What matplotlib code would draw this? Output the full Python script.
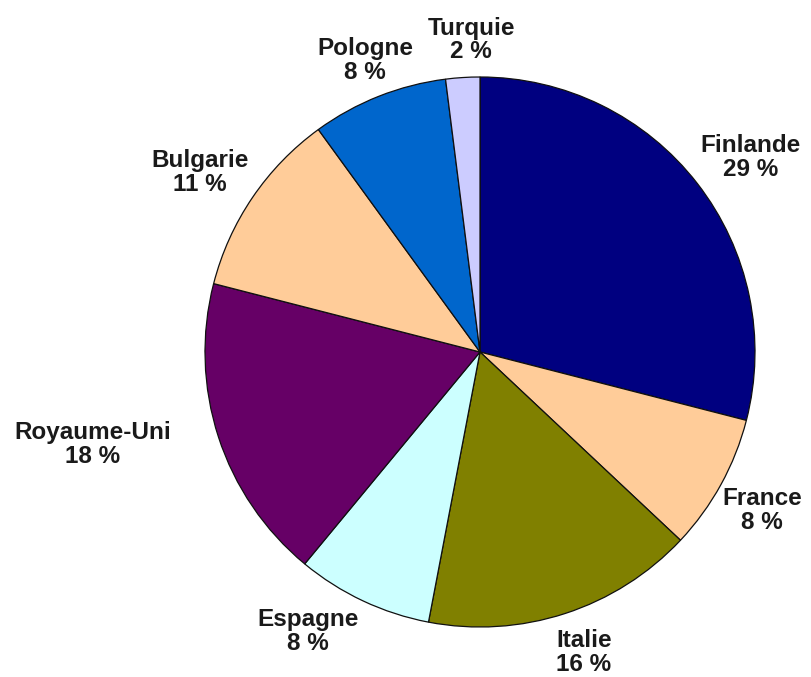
import numpy as np
import matplotlib
matplotlib.use("Agg")
import matplotlib.pyplot as plt

# data
pays = ["Finlande", "France", "Italie", "Espagne", "Royaume-Uni",
        "Bulgarie", "Pologne", "Turquie"]
parts = [29, 8, 16, 8, 18, 11, 8, 2]
couleurs = ["#000080", "#FFCC99", "#808000", "#CCFFFF", "#660066",
            "#FFCC99", "#0066CC", "#CCCCFF"]

# label distance from centre (in radii), per slice
dist_label = [1.21, 1.175, 1.155, 1.195, 1.447, 1.21, 1.14, 1.135]
# small angular nudges (degrees) to sit the labels like the original
decal_angle = [-2.1, -0.5, 1.1, -6.4, -4.6, 1.5, -0.1, -1.95]

W, H = 811, 677
fig = plt.figure(figsize=(W / 100, H / 100), dpi=100)
ax = fig.add_axes([0, 0, 1, 1])

wedges, _ = ax.pie(parts, colors=couleurs, startangle=90, counterclock=False,
                   radius=1.0,
                   wedgeprops=dict(edgecolor="#101010", linewidth=0.9))

for w, nom, p, d, da in zip(wedges, pays, parts, dist_label, decal_angle):
    ang = np.deg2rad((w.theta1 + w.theta2) / 2 + da)
    ax.text(d * np.cos(ang), d * np.sin(ang), f"{nom}\n{p} %",
            ha="center", va="center", multialignment="center",
            fontsize=17.5, fontweight="bold", family="Liberation Sans",
            color="#1a1a1a", linespacing=1.05)

# centre of pie at (480, 352) px, radius 275 px
r_px = 275.0
cx, cy = 480.0, H - 352.0
ax.set_xlim(-cx / r_px, (W - cx) / r_px)
ax.set_ylim(-cy / r_px, (H - cy) / r_px)
ax.set_aspect("auto")
ax.axis("off")

fig.savefig("out.png", dpi=100)
